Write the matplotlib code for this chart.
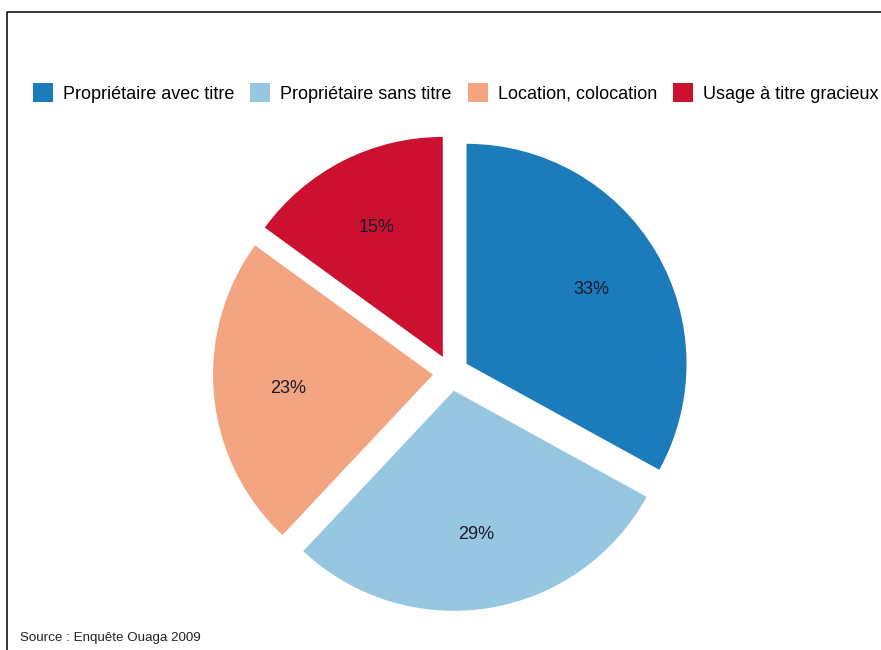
import matplotlib
matplotlib.use("Agg")
import matplotlib.pyplot as plt
from matplotlib.lines import Line2D

plt.rcParams['font.family'] = ['Liberation Sans', 'DejaVu Sans']

categories = ["Propriétaire avec titre", "Propriétaire sans titre",
              "Location, colocation", "Usage à titre gracieux"]
values = [33, 29, 23, 15]
colors = ["#1b7bbb", "#97c6e0", "#f3a582", "#cc1030"]
source = "Source : Enquête Ouaga 2009"

W, H = 881, 650
fig = plt.figure(figsize=(W / 100, H / 100), dpi=100)
fig.patch.set_facecolor("white")

ax = fig.add_axes([0, 0, 1, 1])
R = 220.0  # pixels per data unit
cx, cy = 451.0, 373.0  # pie centre in pixels (from top)
wedges, texts, autotexts = ax.pie(
    values, colors=colors, startangle=90, counterclock=False,
    explode=[0.082] * len(values), radius=1.0,
    autopct=lambda p: f"{p:.0f}%", pctdistance=0.66,
    wedgeprops=dict(linewidth=0),
    textprops=dict(fontsize=13, color="#1a1a2a"))
ax.set_aspect("auto")
ax.set_xlim(-cx / R, (W - cx) / R)
ax.set_ylim(-(H - cy) / R, cy / R)
ax.axis("off")

leg = fig.legend(wedges, categories, ncol=4, loc="center left",
                 bbox_to_anchor=(33 / W, 1 - 93 / H), frameon=False,
                 fontsize=13, handlelength=1.1, handleheight=1.22,
                 handletextpad=0.55, columnspacing=0.9, borderpad=0,
                 borderaxespad=0)

fig.text(20 / W, 1 - 638 / H, source, fontsize=9.6, color="#222222",
         va="center", ha="left")

# frame lines (top and left)
fig.add_artist(Line2D([7 / W, 7 / W, 1.0], [0.0, 1 - 11.5 / H, 1 - 11.5 / H],
                      transform=fig.transFigure, color="black", linewidth=1.1))

fig.savefig("out.png", dpi=100, facecolor="white")
